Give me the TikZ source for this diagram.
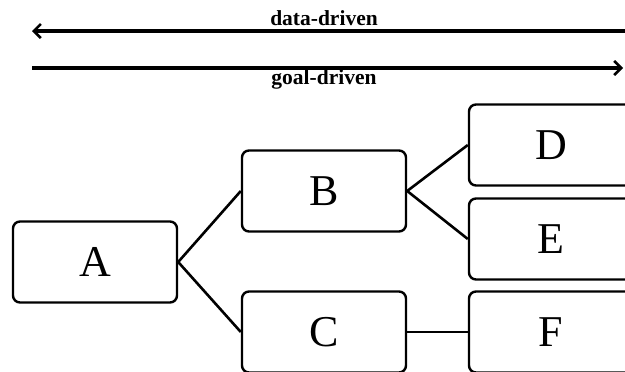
\documentclass[tikz,border=0pt]{standalone}
\usepackage{fontspec}
\setmainfont{Liberation Serif}
\usetikzlibrary{arrows.meta}
\begin{document}
\begin{tikzpicture}[x=1pt,y=-1pt,
  box/.style={draw,line width=2.4pt,rounded corners=7pt,minimum width=164pt,
    minimum height=81pt,inner sep=0pt,font=\fontsize{44}{44}\selectfont},
  link/.style={line width=2.6pt},
  dirarrow/.style={line width=3.2pt,-{Straight Barb[length=7pt,width=14pt,line width=2.6pt]}},
  dirlabel/.style={font=\fontsize{21.5}{21.5}\selectfont\bfseries,inner sep=0pt,anchor=base}]
  \useasboundingbox (0,0) rectangle (625,372);
  \clip (0,0) rectangle (625,372);

  % direction arrows
  \coordinate (dr) at (625,31);
  \coordinate (dl) at (32,31);
  \coordinate (gl) at (32,68);
  \coordinate (gr) at (623,68);
  \draw[dirarrow] (dr) -- (dl);
  \draw[dirarrow] (gl) -- (gr);
  \node[dirlabel] (dd) at (324,26) {data-driven};
  \node[dirlabel] (gd) at (324,84) {goal-driven};

  % tree of boxes
  \node[box] (A) at (95,262) {A};
  \node[box] (B) at (324,191) {B};
  \node[box] (C) at (324,332) {C};
  \node[box] (D) at (551,145) {D};
  \node[box] (E) at (551,239) {E};
  \node[box] (F) at (551,332) {F};

  \draw[link] (A.east) -- (B.west);
  \draw[link] (A.east) -- (C.west);
  \draw[link] (B.east) -- (D.west);
  \draw[link] (B.east) -- (E.west);
  \draw[link] (C.east) -- (F.west);
\end{tikzpicture}
\end{document}
